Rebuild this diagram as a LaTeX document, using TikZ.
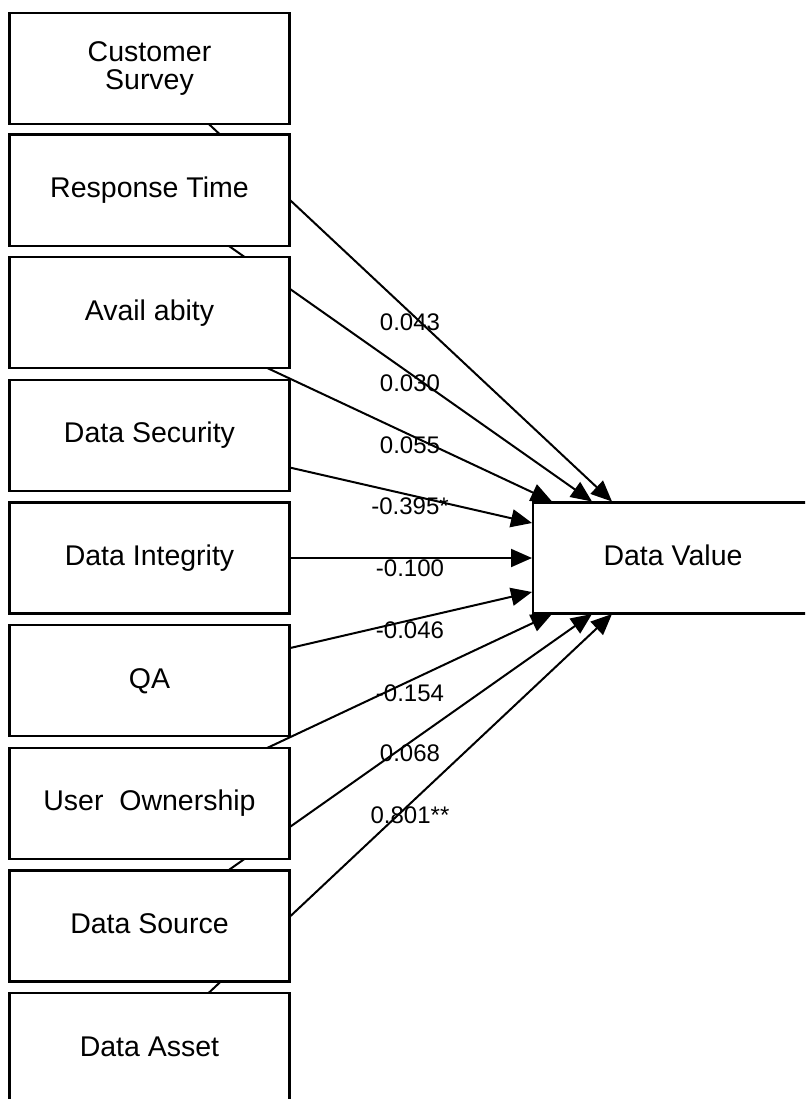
\documentclass[tikz,border=0pt]{standalone}
\usepackage{fontspec}
\setmainfont{Liberation Sans}
\usetikzlibrary{arrows.meta,backgrounds}
\begin{document}
\begin{tikzpicture}[x=1pt,y=-1pt,
  box/.style={draw,line width=2.2pt,fill=white,minimum width=280pt,minimum height=111pt,inner sep=0pt,font=\fontsize{28.5}{28.5}\selectfont},
  onel/.style={text height=20pt,text depth=5pt},
  lab/.style={font=\fontsize{24}{28}\selectfont,inner sep=0pt,text height=17pt,text depth=0pt},
  conn/.style={line width=2pt,-{Triangle[length=21pt,width=18pt]}}]
\useasboundingbox (0,0) rectangle (805,1099);
\clip (0,0) rectangle (805,1099);
% left boxes
\node[box,align=center] (cs)   at (149.5,68.5)   {Customer\\Survey};
\node[box,onel]         (rt)   at (149.5,190.1)  {Response Time};
\node[box,onel]         (av)   at (149.5,312.8)  {Avail abity};
\node[box,onel]         (ds)   at (149.5,435.4)  {Data Security};
\node[box,onel]         (di)   at (149.5,558)    {Data Integrity};
\node[box,onel]         (qa)   at (149.5,680.6)  {QA};
\node[box,onel]         (uo)   at (149.5,803.3)  {User\ \ Ownership};
\node[box,onel]         (dsrc) at (149.5,925.9)  {Data Source};
\node[box,onel]         (da)   at (149.5,1048.5) {Data Asset};
% target
\node[box,onel]         (dv)   at (673,558)      {Data Value};
% arrow end points on the target border
\coordinate (t1) at (552,501.5);
\coordinate (t2) at (592,501.5);
\coordinate (t3) at (612,501.5);
\coordinate (l1) at (532,523);
\coordinate (l2) at (532,558);
\coordinate (l3) at (532,592);
\coordinate (b1) at (552,614);
\coordinate (b2) at (592,614);
\coordinate (b3) at (612,614);
\begin{pgfonlayer}{background}
\draw[conn] (cs.center)   -- (t3);
\draw[conn] (rt.center)   -- (t2);
\draw[conn] (av.center)   -- (t1);
\draw[conn] (ds.center)   -- (l1);
\draw[conn] (di.center)   -- (l2);
\draw[conn] (qa.center)   -- (l3);
\draw[conn] (uo.center)   -- (b1);
\draw[conn] (dsrc.center) -- (b2);
\draw[conn] (da.center)   -- (b3);
\end{pgfonlayer}
% coefficient labels
\node[lab] (c1) at (410,322)   {0.043};
\node[lab] (c2) at (410,383)   {0.030};
\node[lab] (c3) at (410,445)   {0.055};
\node[lab] (c4) at (410,506)   {-0.395*};
\node[lab] (c5) at (410,568)   {-0.100};
\node[lab] (c6) at (410,630)   {-0.046};
\node[lab] (c7) at (410,692.5) {-0.154};
\node[lab] (c8) at (410,753)   {0.068};
\node[lab] (c9) at (410,815)   {0.801**};
\end{tikzpicture}
\end{document}
